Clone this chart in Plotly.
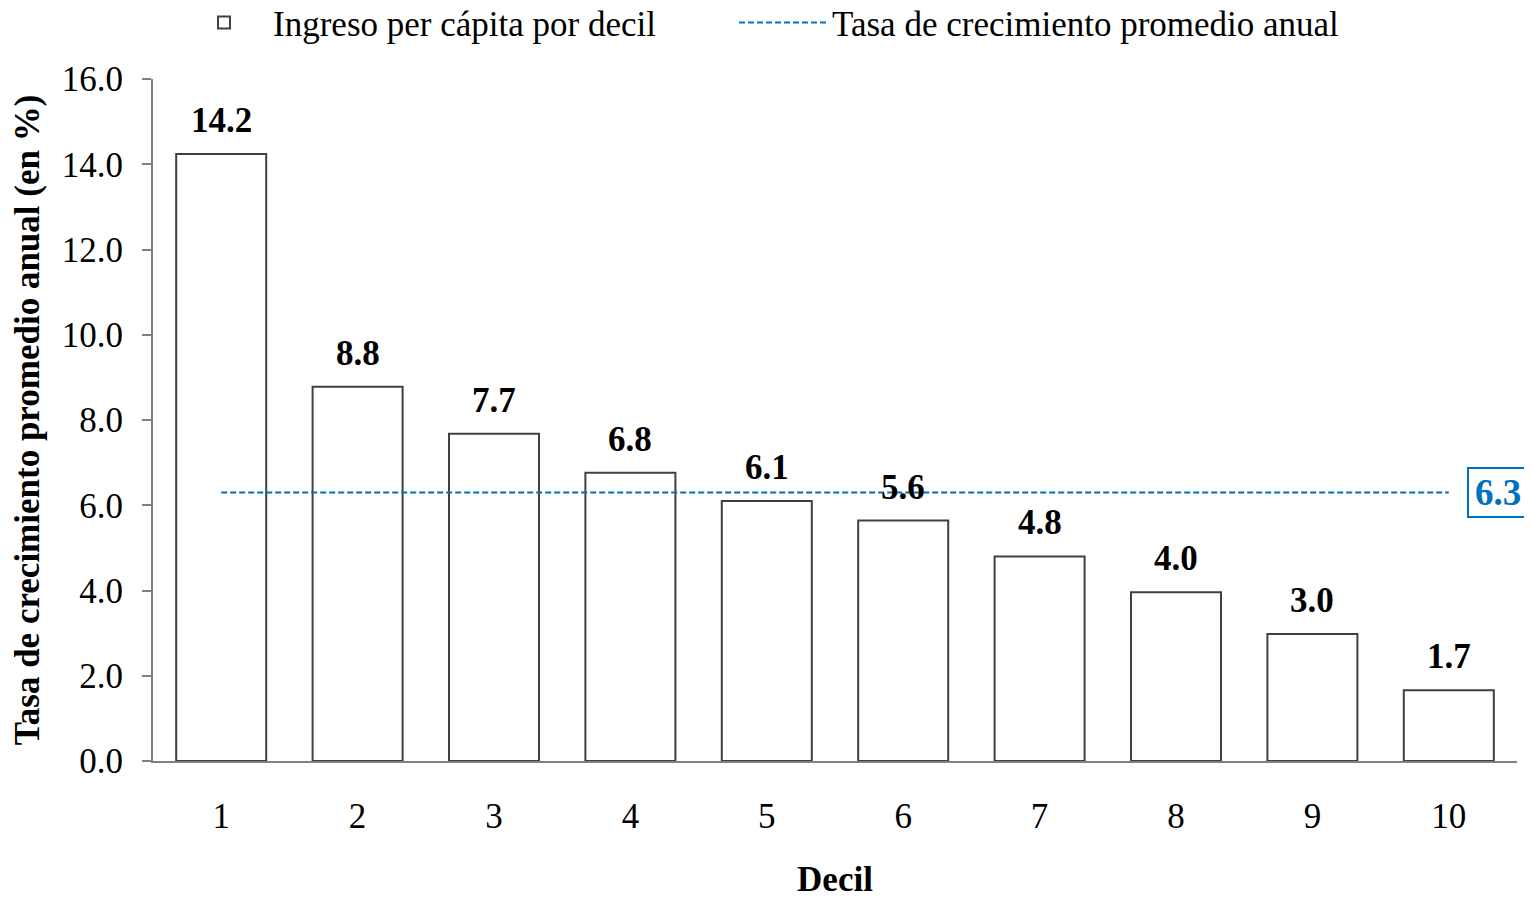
import plotly.graph_objects as go

deciles = ["1", "2", "3", "4", "5", "6", "7", "8", "9", "10"]
growth = [14.24, 8.78, 7.68, 6.76, 6.10, 5.64, 4.80, 3.96, 2.98, 1.66]
avg_rate = 6.3
y_ticks = [0, 2, 4, 6, 8, 10, 12, 14, 16]

FONT = "Liberation Serif, Times New Roman, serif"
BLUE = "#0070C0"

fig = go.Figure()
fig.add_trace(go.Bar(
    x=deciles, y=growth, name="Ingreso per cápita por decil", legend="legend",
    marker=dict(color="white", line=dict(color="#404040", width=2)),
))
for i, v in enumerate(growth):
    fig.add_annotation(
        x=i, y=v, xref="x", yref="y", text=f"<b>{v:.1f}</b>", showarrow=False,
        yanchor="bottom", yshift=12, font=dict(family=FONT, size=35, color="black"),
    )
fig.add_trace(go.Scatter(
    x=[deciles[0], deciles[-1]], y=[avg_rate, avg_rate], mode="lines",
    name="Tasa de crecimiento promedio anual", legend="legend2",
    line=dict(color=BLUE, width=2, dash="6px,3px"),
))
fig.add_annotation(
    x=0.9634, xref="paper", xanchor="left", y=avg_rate, yref="y",
    text=f"<b>{avg_rate:.1f}</b>", showarrow=False, width=52, align="center",
    font=dict(family=FONT, size=37, color=BLUE),
    bordercolor=BLUE, borderwidth=2, borderpad=3, bgcolor="white",
)

leg_common = dict(orientation="h", xref="container", yref="container",
                  xanchor="left", y=0.9835, yanchor="middle",
                  font=dict(family=FONT, size=35), itemwidth=88,
                  bgcolor="rgba(0,0,0,0)")

fig.update_layout(
    width=1524, height=891,
    margin=dict(l=145, r=15, t=71, b=138, autoexpand=False),
    plot_bgcolor="white", paper_bgcolor="white",
    font=dict(family=FONT, size=35, color="black"),
    bargap=0.34,
    showlegend=True,
    legend=dict(x=0.1096, **leg_common),
    legend2=dict(x=0.4764, **leg_common),
    xaxis=dict(
        type="category", range=[-0.5, 9.5], showline=True, linecolor="#808080",
        linewidth=2, ticks="", ticklabelstandoff=23, automargin=False,
        tickfont=dict(family=FONT, size=35),
        title=dict(text="<b>Decil</b>", font=dict(family=FONT, size=35), standoff=39),
    ),
    yaxis=dict(
        range=[0, 16], tickvals=y_ticks, ticktext=[f"{v:.1f}" for v in y_ticks],
        showline=True, linecolor="#808080", linewidth=2, ticks="outside",
        ticklen=9, tickcolor="#808080", tickwidth=2, showgrid=False, zeroline=False,
        ticklabelstandoff=12, tickfont=dict(family=FONT, size=35), automargin=False,
        title=dict(text="<b>Tasa de crecimiento promedio anual (en %)</b>",
                   font=dict(family=FONT, size=35), standoff=46),
    ),
)
fig.write_html("out.html")
